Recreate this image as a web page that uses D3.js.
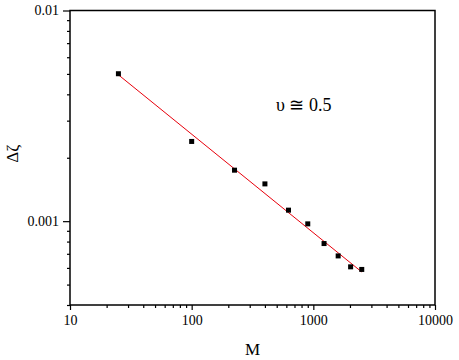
<!DOCTYPE html>
<html><head><meta charset="utf-8">
<script src="https://cdn.jsdelivr.net/npm/d3@7"></script>
<style>body{margin:0;background:#fff}svg{display:block}text{font-family:"Liberation Serif","Times New Roman",serif;fill:#000}</style>
</head><body><svg id="c" width="459" height="360"></svg>
<script>
const M = [25, 100, 225, 400, 625, 900, 1225, 1600, 2025, 2500];
const dZeta = [0.00501, 0.00239, 0.001746, 0.001503, 0.001128, 0.000971, 0.000783, 0.000684, 0.000607, 0.000590];
const fitM = [25, 2500];
const fitZeta = [0.00495, 0.000574];
const xTicks = [10, 100, 1000, 10000];
const xTickLabels = ["10", "100", "1000", "10000"];
const yTicks = [0.001, 0.01];
const yTickLabels = ["0.001", "0.01"];
const annotation = "υ ≅ 0.5";

const svg = d3.select("#c");
const L = 70, R = 435, T = 10.5, B = 305;
const x = d3.scaleLog().domain([10, 10000]).range([L, R]);
const y = d3.scaleLog().domain([0.0004, 0.01]).range([B, T]);

// minor ticks
const xMinor = [];
for (let d = 10; d < 10000; d *= 10) for (let k = 2; k <= 9; k++) xMinor.push(d * k);
const yMinor = [0.0004, 0.0005, 0.0006, 0.0007, 0.0008, 0.0009];
for (let k = 2; k <= 9; k++) yMinor.push(+(k * 0.001).toFixed(4));

const g = svg.append("g");
const xMinorAxis = d3.axisBottom(x).tickValues(xMinor).tickSize(3).tickFormat("");
const xAxis = d3.axisBottom(x).tickValues(xTicks).tickSize(5).tickPadding(5).tickFormat((d, i) => xTickLabels[i]);
const yMinorAxis = d3.axisLeft(y).tickValues(yMinor).tickSize(3).tickFormat("");
const yAxis = d3.axisLeft(y).tickValues(yTicks).tickSize(7).tickPadding(4).tickFormat((d, i) => yTickLabels[i]);

function style(sel) {
  sel.select(".domain").remove();
  sel.selectAll("line").attr("stroke", "#000").attr("stroke-width", 1.2);
  sel.selectAll("text").attr("font-family", "Liberation Serif, serif").attr("font-size", 14).attr("fill", "#000");
}
g.append("g").attr("transform", `translate(0,${B})`).call(xMinorAxis).call(style);
g.append("g").attr("transform", `translate(0,${B})`).call(xAxis).call(style);
g.append("g").attr("transform", `translate(${L},0)`).call(yMinorAxis).call(style);
g.append("g").attr("transform", `translate(${L},0)`).call(yAxis).call(style);

// frame
svg.append("rect").attr("x", L).attr("y", T).attr("width", R - L).attr("height", B - T)
  .attr("fill", "none").attr("stroke", "#000").attr("stroke-width", 1.5);

// fit line
const line = d3.line().x((d, i) => x(fitM[i])).y((d, i) => y(fitZeta[i]));
svg.append("path").datum(fitM).attr("d", line).attr("fill", "none").attr("stroke", "#e8000b").attr("stroke-width", 1);

// points
svg.append("g").selectAll("rect").data(M).join("rect")
  .attr("x", (d) => x(d) - 2.5).attr("y", (d, i) => y(dZeta[i]) - 2.5)
  .attr("width", 5).attr("height", 5).attr("fill", "#000");

// labels
svg.append("text").attr("x", (L + R) / 2).attr("y", 355).attr("text-anchor", "middle")
  .attr("font-size", 17).text("M");
svg.append("text").attr("transform", `translate(18,${(T + B) / 2 - 4}) rotate(-90)`).attr("text-anchor", "middle")
  .attr("font-size", 17).text("Δζ");
svg.append("text").attr("x", 276).attr("y", 110.5).attr("font-size", 18).text(annotation);
</script></body></html>
